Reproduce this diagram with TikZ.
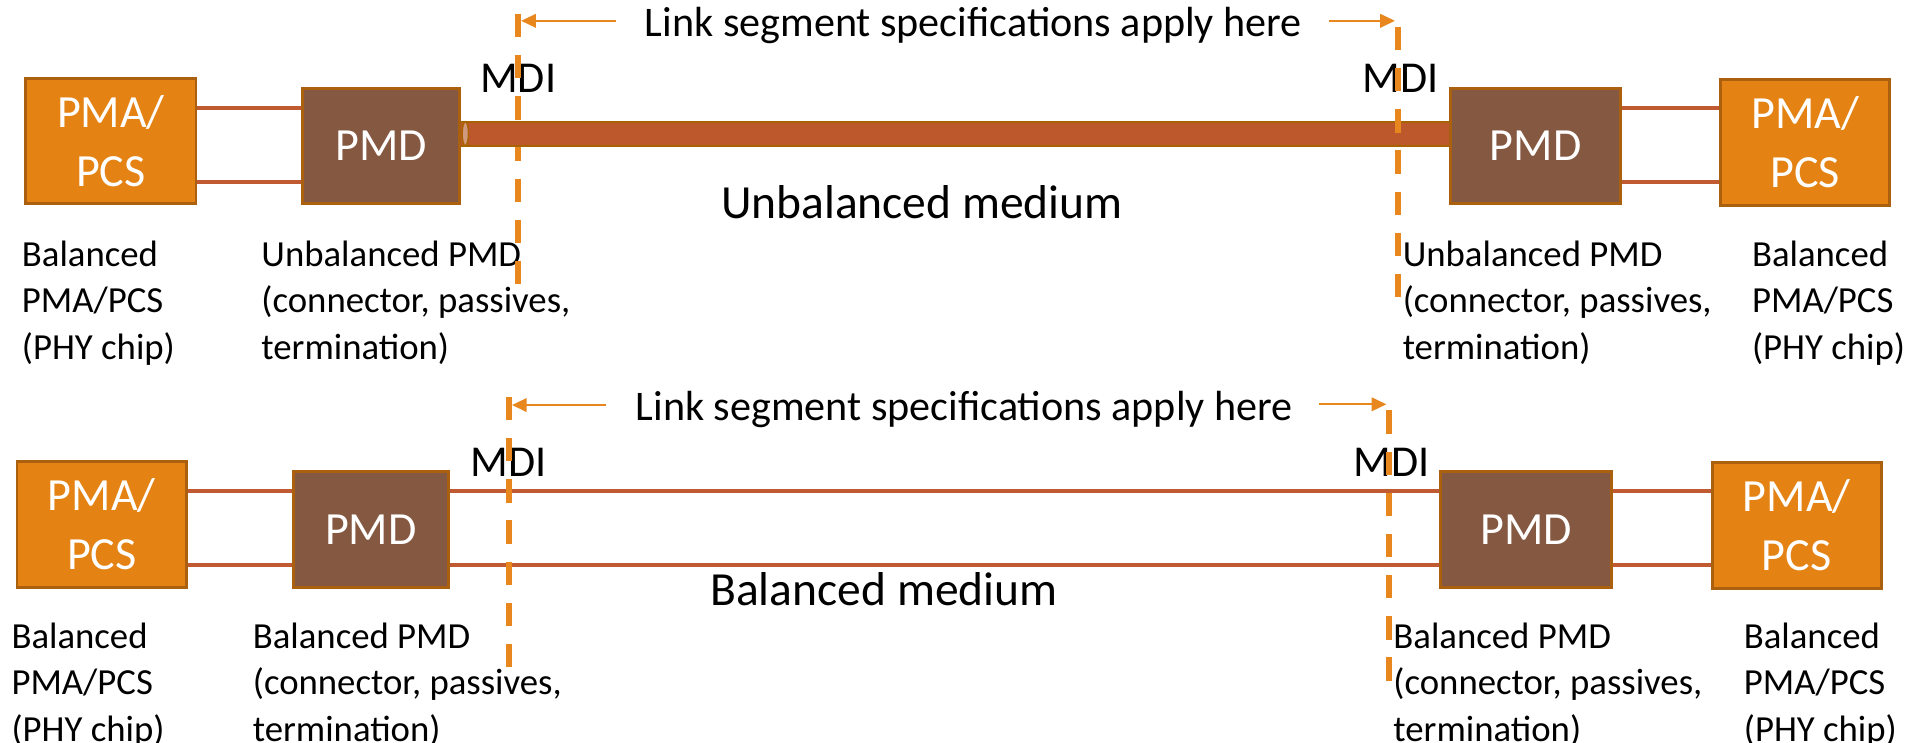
\documentclass[tikz,border=0pt]{standalone}
\usepackage{fontspec}
\setmainfont{Carlito}
\usetikzlibrary{arrows.meta}
\definecolor{pmafill}{HTML}{E48314}
\definecolor{boxedge}{HTML}{AA600F}
\definecolor{pmdfill}{HTML}{855841}
\definecolor{wirecol}{HTML}{C05A30}
\definecolor{cablefill}{HTML}{BC582C}
\definecolor{cableedge}{HTML}{A86300}
\definecolor{capfill}{HTML}{D09A80}
\definecolor{dashcol}{HTML}{E8871E}
\begin{document}
\begin{tikzpicture}[x=0.5pt,y=-0.5pt,
  pmabox/.style={draw=boxedge, fill=pmafill, line width=1.2pt, text=white, inner sep=0pt, align=center, font=\fontsize{18.8}{24}\selectfont},
  pmdbox/.style={draw=boxedge, fill=pmdfill, line width=1.2pt, text=white, inner sep=0pt, font=\fontsize{18.8}{24}\selectfont},
  wire/.style={draw=wirecol, line width=1.6pt},
  cable/.style={draw=cableedge, line width=0.8pt, double=cablefill, double distance=9pt},
  mdiline/.style={draw=dashcol, line width=2.5pt, dash pattern=on 9.5pt off 7.3pt},
  specarrow/.style={draw=dashcol, line width=0.9pt, -{Triangle[length=6pt,width=5.5pt]}, shorten >=1.2pt},
  lbl/.style={align=left, anchor=north west, inner sep=0pt, font=\fontsize{15}{19}\selectfont},
  spec/.style={inner sep=0pt, font=\fontsize{17.2}{20}\selectfont},
  mdi/.style={inner sep=0pt, font=\fontsize{18}{22}\selectfont},
  medium/.style={inner sep=0pt, font=\fontsize{19.4}{23}\selectfont}
]
\fill[white] (0,0) rectangle (1568,606);
\useasboundingbox (0,0) rectangle (1568,606);

% level coordinates
\coordinate (tw1) at (0,88);
\coordinate (tw2) at (0,148.6);
\coordinate (tcab) at (0,109.1);
\coordinate (bw1) at (0,400.5);
\coordinate (bw2) at (0,461);

% ---------- top panel ----------
\node[pmabox, minimum width=69.5pt, minimum height=51pt] (tpmaL) at (90.5,115) {PMA/\\PCS};
\node[pmdbox, minimum width=64pt, minimum height=46.7pt] (tpmdL) at (311,119.3) {PMD};
\node[pmdbox, minimum width=69.5pt, minimum height=46.7pt] (tpmdR) at (1253.5,119.3) {PMD};
\node[pmabox, minimum width=69pt, minimum height=51.6pt] (tpmaR) at (1473.6,116.3) {PMA/\\PCS};

\node[spec] (tspec) at (794.5,21) {Link segment specifications apply here};
\node[mdi] (tmdiL) at (423,64) {MDI};
\node[mdi] (tmdiR) at (1143,64) {MDI};
\node[medium] (tmed) at (752.5,165) {Unbalanced medium};

\node[lbl] (tlab1) at (17.5,196) {Balanced\\PMA/PCS\\(PHY chip)};
\node[lbl] (tlab2) at (213,196) {Unbalanced PMD\\(connector, passives,\\termination)};
\node[lbl] (tlab3) at (1144.6,196) {Unbalanced PMD\\(connector, passives,\\termination)};
\node[lbl] (tlab4) at (1429.7,196) {Balanced\\PMA/PCS\\(PHY chip)};

\draw[wire] (tpmaL.east |- tw1) -- (tpmdL.west |- tw1);
\draw[wire] (tpmaL.east |- tw2) -- (tpmdL.west |- tw2);
\draw[wire] (tpmdR.east |- tw1) -- (tpmaR.west |- tw1);
\draw[wire] (tpmdR.east |- tw2) -- (tpmaR.west |- tw2);

\coordinate (tdLt) at (423,11.4);
\coordinate (tdLb) at (423,237);
\coordinate (tdRt) at (1141,22);
\coordinate (tdRb) at (1141,245);
\draw[mdiline] (tdLt) -- (tdLb);

\draw[cable] (tpmdL.east |- tcab) -- (tpmdR.west |- tcab);
\draw[draw=cableedge, line width=0.6pt, fill=capfill] (tpmdL.east |- tcab) ++(1.8pt,0) ellipse [x radius=1.3pt, y radius=4.9pt];

\draw[mdiline] (tdRt) -- (tdRb);

\coordinate (taL) at (503,17);
\coordinate (taR) at (1085,17);
\draw[specarrow] (taL) -- (taL -| tdLt);
\draw[specarrow] (taR) -- (taR -| tdRt);

% ---------- bottom panel ----------
\node[pmabox, minimum width=69.2pt, minimum height=51.5pt] (bpmaL) at (83.1,427.9) {PMA/\\PCS};
\node[pmdbox, minimum width=63.3pt, minimum height=47.2pt] (bpmdL) at (302.7,432.2) {PMD};
\node[pmdbox, minimum width=69.8pt, minimum height=47.2pt] (bpmdR) at (1245.8,432.2) {PMD};
\node[pmabox, minimum width=69pt, minimum height=51.2pt] (bpmaR) at (1466.5,428.8) {PMA/\\PCS};

\node[spec] (bspec) at (787,334) {Link segment specifications apply here};
\node[mdi] (bmdiL) at (415,377) {MDI};
\node[mdi] (bmdiR) at (1135.6,377) {MDI};
\node[medium] (bmed) at (721.5,481) {Balanced medium};

\node[lbl] (blab1) at (9,508) {Balanced\\PMA/PCS\\(PHY chip)};
\node[lbl] (blab2) at (206,508) {Balanced PMD\\(connector, passives,\\termination)};
\node[lbl] (blab3) at (1137,508) {Balanced PMD\\(connector, passives,\\termination)};
\node[lbl] (blab4) at (1423,508) {Balanced\\PMA/PCS\\(PHY chip)};

\draw[wire] (bpmaL.east |- bw1) -- (bpmdL.west |- bw1);
\draw[wire] (bpmaL.east |- bw2) -- (bpmdL.west |- bw2);
\draw[wire] (bpmdL.east |- bw1) -- (bpmdR.west |- bw1);
\draw[wire] (bpmdL.east |- bw2) -- (bpmdR.west |- bw2);
\draw[wire] (bpmdR.east |- bw1) -- (bpmaR.west |- bw1);
\draw[wire] (bpmdR.east |- bw2) -- (bpmaR.west |- bw2);

\coordinate (bdLt) at (415.5,324);
\coordinate (bdLb) at (415.5,549);
\coordinate (bdRt) at (1134,335);
\coordinate (bdRb) at (1134,558);
\draw[mdiline] (bdLt) -- (bdLb);
\draw[mdiline] (bdRt) -- (bdRb);

\coordinate (baL) at (495,330.6);
\coordinate (baR) at (1077,330);
\draw[specarrow] (baL) -- (baL -| bdLt);
\draw[specarrow] (baR) -- (baR -| bdRt);
\end{tikzpicture}
\end{document}
